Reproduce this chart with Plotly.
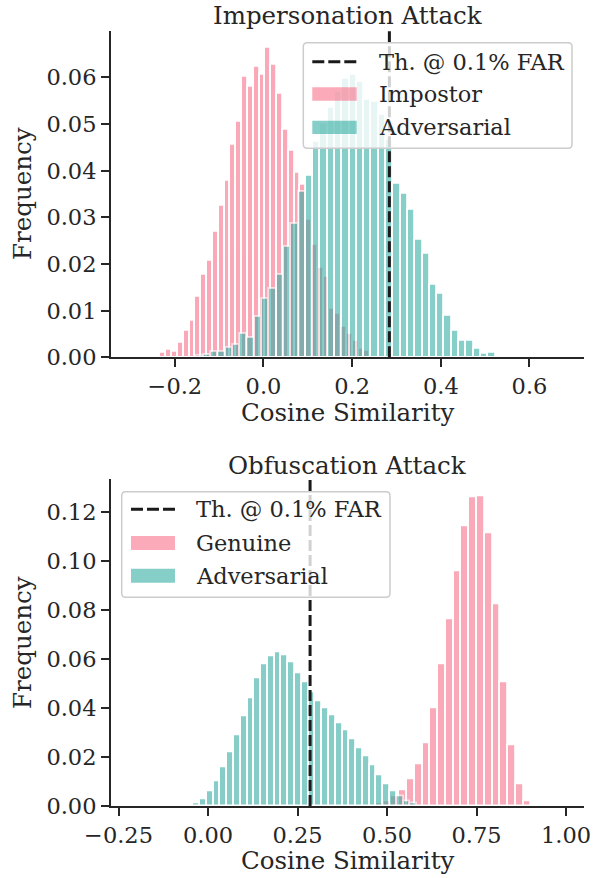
import plotly.graph_objects as go

W, H = 602, 878

# ---------------- data ----------------
# Impersonation attack (top panel): histogram bins (first bin centre, bin width) and frequencies
impostor_start, impostor_width = -0.2259, 0.01315
impostor_freq = [0.0010, 0.0017, 0.0013, 0.0031, 0.0056, 0.0078, 0.0129, 0.0178, 0.0206, 0.0269,
                 0.0324, 0.0378, 0.0455, 0.0506, 0.0602, 0.0579, 0.0622, 0.0606, 0.0663, 0.0627,
                 0.0564, 0.0487, 0.0442, 0.0395, 0.0369, 0.0294, 0.0241, 0.0193, 0.0173, 0.0105,
                 0.0094, 0.0066, 0.0050, 0.0036, 0.0019, 0.0014]
adv_imp_start, adv_imp_width = -0.1432, 0.01646
adv_imp_freq = [0.0004, 0.0005, 0.0013, 0.0012, 0.0021, 0.0027, 0.0050, 0.0043, 0.0088, 0.0126,
                0.0147, 0.0176, 0.0236, 0.0287, 0.0355, 0.0390, 0.0462, 0.0500, 0.0534, 0.0570,
                0.0598, 0.0605, 0.0590, 0.0553, 0.0548, 0.0520, 0.0466, 0.0373, 0.0350, 0.0317,
                0.0251, 0.0221, 0.0156, 0.0137, 0.0089, 0.0058, 0.0035, 0.0035, 0.0018, 0.0007,
                0.0009]
threshold_imp = 0.284

# Obfuscation attack (bottom panel)
genuine_start, genuine_width = 0.4796, 0.02173
genuine_freq = [0.0012, 0.0021, 0.0038, 0.0065, 0.0110, 0.0170, 0.0257, 0.0397, 0.0579, 0.0761,
                0.0958, 0.1139, 0.1259, 0.1261, 0.1112, 0.0824, 0.0504, 0.0246, 0.0090, 0.0020]
adv_obf_start, adv_obf_width = -0.0316, 0.01894
adv_obf_freq = [0.0011, 0.0029, 0.0058, 0.0102, 0.0156, 0.0219, 0.0290, 0.0366, 0.0440, 0.0521,
                0.0579, 0.0609, 0.0627, 0.0613, 0.0586, 0.0542, 0.0503, 0.0464, 0.0428, 0.0397,
                0.0368, 0.0338, 0.0309, 0.0274, 0.0236, 0.0204, 0.0164, 0.0126, 0.0088, 0.0058,
                0.0038, 0.0019, 0.0009]
threshold_obf = 0.285

top_xticks = [-0.2, 0.0, 0.2, 0.4, 0.6]
top_yticks = [0.00, 0.01, 0.02, 0.03, 0.04, 0.05, 0.06]
bot_xticks = [-0.25, 0.0, 0.25, 0.5, 0.75, 1.0]
bot_yticks = [0.00, 0.02, 0.04, 0.06, 0.08, 0.10, 0.12]

PINK = "#f77189"
TEAL = "#36ada4"
INK = "#262626"
FONT = "DejaVu Serif"
TICK_SIZE = 22.5
LEGEND_SIZE = 22.5
LABEL_SIZE = 24.5


def centers(start, width, n):
    return [start + i * width for i in range(n)]


def X(px):
    return px / W


def Y(py):
    return 1 - py / H


fig = go.Figure()


def add_hist(start, width, freq, color, xa, ya):
    fig.add_trace(go.Bar(
        x=centers(start, width, len(freq)), y=freq, width=width,
        marker=dict(color=color, line=dict(color="white", width=1.8)),
        opacity=0.6, xaxis=xa, yaxis=ya, showlegend=False, hoverinfo="skip"))


add_hist(impostor_start, impostor_width, impostor_freq, PINK, "x", "y")
add_hist(adv_imp_start, adv_imp_width, adv_imp_freq, TEAL, "x", "y")
add_hist(genuine_start, genuine_width, genuine_freq, PINK, "x2", "y2")
add_hist(adv_obf_start, adv_obf_width, adv_obf_freq, TEAL, "x2", "y2")

# threshold lines
for th, xr, yr in [(threshold_imp, "x", "y domain"), (threshold_obf, "x2", "y2 domain")]:
    fig.add_shape(type="line", x0=th, x1=th, y0=0, y1=1, xref=xr, yref=yr,
                  line=dict(color="#1a1a1a", width=3, dash="11px,4px"))


def rrect(x0, y0, x1, y1, r):
    return (f"M {X(x0 + r)},{Y(y0)} L {X(x1 - r)},{Y(y0)} Q {X(x1)},{Y(y0)} {X(x1)},{Y(y0 + r)} "
            f"L {X(x1)},{Y(y1 - r)} Q {X(x1)},{Y(y1)} {X(x1 - r)},{Y(y1)} "
            f"L {X(x0 + r)},{Y(y1)} Q {X(x0)},{Y(y1)} {X(x0)},{Y(y1 - r)} "
            f"L {X(x0)},{Y(y0 + r)} Q {X(x0)},{Y(y0)} {X(x0 + r)},{Y(y0)} Z")


annotations = []


def legend(box, line_y, rows, labels, sx0, sx1, tx):
    x0, y0, x1, y1 = box
    fig.add_shape(type="path", path=rrect(x0, y0, x1, y1, 4), xref="paper", yref="paper",
                  fillcolor="rgba(255,255,255,0.8)", line=dict(color="#cccccc", width=1.5))
    fig.add_shape(type="line", x0=X(sx0), x1=X(sx1), y0=Y(line_y), y1=Y(line_y),
                  xref="paper", yref="paper", line=dict(color="#1a1a1a", width=3, dash="12px,4px"))
    for (ry0, ry1), col in zip(rows, [PINK, TEAL]):
        fig.add_shape(type="rect", x0=X(sx0), x1=X(sx1), y0=Y(ry0), y1=Y(ry1),
                      xref="paper", yref="paper", fillcolor=col, opacity=0.6,
                      line=dict(width=0))
    ys = [line_y] + [(a + b) / 2 for a, b in rows]
    for lab, yy in zip(labels, ys):
        annotations.append(dict(text=lab, x=X(tx), y=Y(yy), xref="paper", yref="paper",
                                xanchor="left", yanchor="middle", showarrow=False,
                                font=dict(family=FONT, size=LEGEND_SIZE, color=INK)))


legend((303.3, 42.7, 572, 148.3), 61.7, [(87.3, 100.7), (120.7, 134.0)],
       ["Th. @ 0.1% FAR", "Impostor", "Adversarial"], 312.3, 356.7, 376.7)
legend((121.7, 491.7, 390, 597.3), 509.3, [(536.0, 550.0), (568.7, 582.7)],
       ["Th. @ 0.1% FAR", "Genuine", "Adversarial"], 131.0, 175.0, 194.3)

# titles and axis labels
for text, x, y, ang in [("Impersonation Attack", 347.5, 16, 0),
                        ("Obfuscation Attack", 347.5, 465, 0),
                        ("Cosine Similarity", 347.5, 413, 0),
                        ("Cosine Similarity", 347.5, 860, 0),
                        ("Frequency", 22, 194, -90),
                        ("Frequency", 22, 643, -90)]:
    annotations.append(dict(text=text, x=X(x), y=Y(y), xref="paper", yref="paper",
                            xanchor="center", yanchor="middle", showarrow=False, textangle=ang,
                            font=dict(family=FONT, size=LABEL_SIZE, color=INK)))

axis_common = dict(showline=True, linecolor=INK, linewidth=2, ticks="outside", ticklen=8,
                   tickwidth=2, tickcolor=INK, showgrid=False, zeroline=False,
                   tickfont=dict(family=FONT, size=TICK_SIZE, color=INK), automargin=False)

xd = [X(111), X(584)]
fig.update_layout(
    width=W, height=H, margin=dict(l=0, r=0, t=0, b=0),
    plot_bgcolor="white", paper_bgcolor="white", barmode="overlay", bargap=0,
    showlegend=False,
    xaxis=dict(domain=xd, range=[-0.344, 0.723], anchor="y", tickvals=top_xticks,
               tickformat=".1f", **axis_common),
    yaxis=dict(domain=[Y(357.3), Y(30.7)], range=[0, 0.0700], anchor="x", tickvals=top_yticks,
               tickformat=".2f", **axis_common),
    xaxis2=dict(domain=xd, range=[-0.271, 1.050], anchor="y2", tickvals=bot_xticks,
                tickformat=".2f", **axis_common),
    yaxis2=dict(domain=[Y(806), Y(479.3)], range=[0, 0.1332], anchor="x2", tickvals=bot_yticks,
                tickformat=".2f", **axis_common),
    annotations=annotations,
)

fig.write_html("out.html", config={"displayModeBar": False},
               post_script="document.body.style.margin='0';document.body.style.overflow='hidden';")
